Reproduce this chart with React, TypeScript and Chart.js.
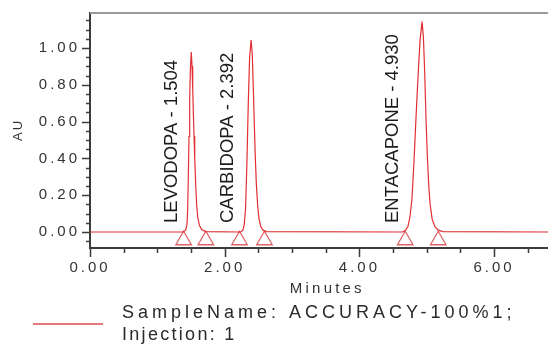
import React, { useEffect, useRef } from 'react';
import { Chart, registerables } from 'chart.js';

Chart.register(...registerables);

// ---- data ----
const PEAK_NAMES = ['LEVODOPA', 'CARBIDOPA', 'ENTACAPONE'];
const PEAK_RT = [1.504, 2.392, 4.93];
const PEAK_START = [1.39, 2.22, 4.68];
const PEAK_END = [1.72, 2.59, 5.17];

const TIME_MIN = [
  0, 1.38, 1.42, 1.44, 1.45, 1.46, 1.47, 1.48, 1.49, 1.504, 1.515, 1.525, 1.535, 1.545, 1.555, 1.57, 1.585, 1.6, 1.625, 1.66, 1.72,
  2.24, 2.27, 2.29, 2.31, 2.33, 2.35, 2.37, 2.392, 2.41, 2.425, 2.44, 2.455, 2.47, 2.49, 2.51, 2.535, 2.57, 2.62,
  4.64, 4.68, 4.72, 4.75, 4.78, 4.81, 4.84, 4.87, 4.9, 4.93, 4.95, 4.97, 4.99, 5.01, 5.03, 5.05, 5.08, 5.12, 5.17, 5.24,
  6.8,
];
const ABSORBANCE_AU = [
  0, 0, 0.01, 0.04, 0.12, 0.3, 0.52, 0.72, 0.88, 0.978, 0.9, 0.78, 0.64, 0.52, 0.4, 0.25, 0.14, 0.08, 0.035, 0.012, 0.002,
  0, 0.01, 0.04, 0.13, 0.38, 0.7, 0.95, 1.043, 0.96, 0.78, 0.58, 0.4, 0.26, 0.14, 0.07, 0.03, 0.01, 0.002,
  0, 0.008, 0.03, 0.08, 0.18, 0.38, 0.62, 0.84, 1.04, 1.143, 1.06, 0.86, 0.6, 0.4, 0.25, 0.15, 0.07, 0.03, 0.01, 0.002,
  0,
];

const X_LABEL_TICKS = [0, 2, 4, 6];
const X_MINOR_TICKS = [0.5, 1, 1.5, 2.5, 3, 3.5, 4.5, 5, 5.5, 6.5];
const Y_LABEL_TICKS = [0, 0.2, 0.4, 0.6, 0.8, 1.0];
const Y_MINOR_TICKS = [-0.05, 0.05, 0.1, 0.15, 0.25, 0.3, 0.35, 0.45, 0.5, 0.55, 0.65, 0.7, 0.75, 0.85, 0.9, 0.95, 1.05, 1.1, 1.15];

const SAMPLE_LINE_1 = 'SampleName: ACCURACY-100%1;';
const SAMPLE_LINE_2 = 'Injection: 1';
const X_TITLE = 'Minutes';
const Y_TITLE = 'AU';

// ---- styles ----
const FONT = '"Liberation Sans", Arial, sans-serif';
const TRACE_COLOR = 'rgb(226, 46, 50)';
const MARKER_COLOR = 'rgb(222, 100, 104)';
const AXIS_COLOR = '#3c3c3c';
const TEXT_COLOR = '#333333';
const MARKER_Y = -0.045;

const overlay = {
  id: 'overlay',
  beforeDraw(chart: any) {
    (chart.ctx as any).letterSpacing = '3px';
  },
  afterDraw(chart: any) {
    const ctx = chart.ctx as any;
    const { chartArea: ca, scales } = chart;
    const x = scales.x;
    const y = scales.y;
    ctx.save();
    ctx.letterSpacing = '0px';

    // top frame line
    ctx.strokeStyle = '#9a9a9a';
    ctx.lineWidth = 2;
    ctx.beginPath();
    ctx.moveTo(ca.left, ca.top);
    ctx.lineTo(ca.right, ca.top);
    ctx.stroke();

    // tick marks
    ctx.strokeStyle = AXIS_COLOR;
    ctx.lineWidth = 1.5;
    ctx.beginPath();
    Y_LABEL_TICKS.forEach((v) => {
      const p = Math.round(y.getPixelForValue(v)) + 0.5;
      ctx.moveTo(ca.left - 8, p);
      ctx.lineTo(ca.left, p);
    });
    Y_MINOR_TICKS.forEach((v) => {
      const p = Math.round(y.getPixelForValue(v)) + 0.5;
      ctx.moveTo(ca.left - 4, p);
      ctx.lineTo(ca.left, p);
    });
    X_LABEL_TICKS.forEach((v) => {
      const p = Math.round(x.getPixelForValue(v)) + 0.5;
      ctx.moveTo(p, ca.bottom);
      ctx.lineTo(p, ca.bottom + 9);
    });
    X_MINOR_TICKS.forEach((v) => {
      const p = Math.round(x.getPixelForValue(v)) + 0.5;
      ctx.moveTo(p, ca.bottom);
      ctx.lineTo(p, ca.bottom + 5);
    });
    ctx.stroke();

    // peak labels
    const base = y.getPixelForValue(0);
    const fs = 18.5;
    PEAK_NAMES.forEach((name, i) => {
      const cx = x.getPixelForValue(PEAK_START[i]) - 13.5;
      ctx.save();
      ctx.translate(cx, base - 9);
      ctx.rotate(-Math.PI / 2);
      ctx.font = `${fs}px ${FONT}`;
      ctx.fillStyle = '#1c1c1c';
      ctx.textAlign = 'left';
      ctx.textBaseline = 'alphabetic';
      ctx.fillText(`${name} - ${PEAK_RT[i].toFixed(3)}`, 0, fs * 0.358);
      ctx.restore();
    });

    // y title
    ctx.save();
    ctx.translate(17.5, 131);
    ctx.rotate(-Math.PI / 2);
    ctx.font = `13px ${FONT}`;
    ctx.letterSpacing = '2px';
    ctx.fillStyle = TEXT_COLOR;
    ctx.textAlign = 'center';
    ctx.textBaseline = 'alphabetic';
    ctx.fillText(Y_TITLE, 1, 13 * 0.358);
    ctx.restore();

    // x title
    ctx.font = `15px ${FONT}`;
    ctx.letterSpacing = '3.2px';
    ctx.fillStyle = TEXT_COLOR;
    ctx.textAlign = 'center';
    ctx.textBaseline = 'middle';
    ctx.fillText(X_TITLE, (ca.left + x.getPixelForValue(7)) / 2 + 1.6, 289);

    // legend
    ctx.strokeStyle = 'rgb(230, 120, 122)';
    ctx.lineWidth = 2;
    ctx.beginPath();
    ctx.moveTo(33, 324);
    ctx.lineTo(103, 324);
    ctx.stroke();
    ctx.fillStyle = '#2a2a2a';
    ctx.textAlign = 'left';
    ctx.textBaseline = 'middle';
    ctx.font = `18px ${FONT}`;
    ctx.letterSpacing = '4px';
    ctx.fillText(SAMPLE_LINE_1, 122, 313);
    ctx.letterSpacing = '2.3px';
    ctx.fillText(SAMPLE_LINE_2, 122, 335);

    ctx.restore();
    ctx.letterSpacing = '0px';
  },
};

export default function App() {
  const ref = useRef<HTMLCanvasElement>(null);
  useEffect(() => {
    const canvas = ref.current;
    if (!canvas) return;
    const trace = TIME_MIN.map((t, i) => ({ x: t, y: ABSORBANCE_AU[i] }));
    const markers = [...PEAK_START, ...PEAK_END].map((t) => ({ x: t, y: MARKER_Y }));
    const chart = new Chart(canvas, {
      type: 'line',
      data: {
        datasets: [
          {
            label: `${SAMPLE_LINE_1} ${SAMPLE_LINE_2}`,
            data: trace,
            borderColor: TRACE_COLOR,
            borderWidth: 1.2,
            pointRadius: 0,
            tension: 0,
            fill: false,
          },
          {
            label: 'markers',
            data: markers,
            showLine: false,
            pointStyle: 'triangle',
            pointRadius: 9,
            pointBorderColor: MARKER_COLOR,
            pointBackgroundColor: 'rgba(0,0,0,0)',
            pointBorderWidth: 1.3,
          },
        ],
      },
      options: {
        animation: false,
        responsive: false,
        events: [],
        layout: { autoPadding: false, padding: { top: 13, left: 0, right: 0, bottom: 0 } },
        plugins: { legend: { display: false }, tooltip: { enabled: false } },
        scales: {
          x: {
            type: 'linear',
            min: 0,
            max: 6.8,
            afterFit: (s: any) => {
              s.height = 97;
              s.paddingLeft = 0;
              s.paddingRight = 0;
            },
            afterBuildTicks: (s: any) => {
              s.ticks = X_LABEL_TICKS.map((v) => ({ value: v }));
            },
            grid: { display: false, drawTicks: false },
            border: { display: true, color: AXIS_COLOR, width: 2 },
            ticks: {
              padding: 11,
              color: TEXT_COLOR,
              font: { family: FONT, size: 15 },
              maxRotation: 0,
              autoSkip: false,
              callback: (v: any) => Number(v).toFixed(2),
            },
          },
          y: {
            type: 'linear',
            min: -0.087,
            max: 1.19,
            afterFit: (s: any) => {
              s.width = 90;
              s.paddingTop = 0;
              s.paddingBottom = 0;
            },
            afterBuildTicks: (s: any) => {
              s.ticks = Y_LABEL_TICKS.map((v) => ({ value: v }));
            },
            grid: { display: false, drawTicks: false },
            border: { display: true, color: AXIS_COLOR, width: 2 },
            ticks: {
              padding: 10,
              color: TEXT_COLOR,
              font: { family: FONT, size: 15 },
              autoSkip: false,
              callback: (v: any) => Number(v).toFixed(2),
            },
          },
        },
      },
      plugins: [overlay],
    });
    return () => chart.destroy();
  }, []);
  return (
    <div style={{ position: 'fixed', left: 0, top: 0, width: 548, height: 345, background: '#fff', overflow: 'hidden' }}>
      <canvas ref={ref} width={548} height={345} style={{ display: 'block' }} />
    </div>
  );
}
